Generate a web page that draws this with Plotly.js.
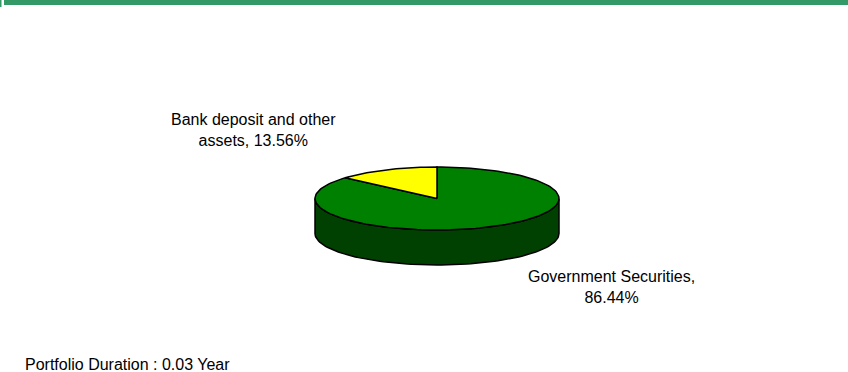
<!DOCTYPE html>
<html>
<head>
<meta charset="utf-8">
<script src="https://cdn.plot.ly/plotly-3.0.1.min.js"></script>
<style>html,body{margin:0;padding:0;background:#fff;}#chart{width:848px;height:372px;}</style>
</head>
<body>
<div id="chart"></div>
<script>
// ---- data ----
const labels = ['Government Securities', 'Bank deposit and other assets'];
const values = [86.44, 13.56];
const labelText = ['Government Securities,<br>86.44%', 'Bank deposit and other<br>assets, 13.56%'];
const footnote = 'Portfolio Duration : 0.03 Year';

// ---- styling / geometry ----
const topColors = ['#008000', '#FFFF00'];
const sideColors = ['#004000', '#808000'];
const cx = 437, cy = 198.5, rx = 122, ry = 31.5, depth = 35;
const labelPos = [[611, 287], [253, 130]];

const total = values.reduce((a, b) => a + b, 0);
const rad = d => d * Math.PI / 180;
function pt(a, dy) { return [cx + rx * Math.cos(rad(a)), cy - ry * Math.sin(rad(a)) + (dy || 0)]; }
function arc(a1, a2, dy) {
  const n = Math.max(2, Math.ceil(Math.abs(a2 - a1) / 2));
  const xs = [], ys = [];
  for (let i = 0; i <= n; i++) { const p = pt(a1 + (a2 - a1) * i / n, dy); xs.push(p[0]); ys.push(p[1]); }
  return [xs, ys];
}

const slices = [];
let start = 90;
values.forEach((v, i) => {
  const sweep = v / total * 360;
  slices.push({ i, hi: start, lo: start - sweep });
  start -= sweep;
});

const traces = [];
// side walls (front half only: angles in [-180,0] mod 360)
slices.forEach(s => {
  [-360, 0, 360].forEach(k => {
    const lo = Math.max(s.lo, -180 + k), hi = Math.min(s.hi, 0 + k);
    if (hi - lo > 0.01) {
      const t = arc(lo, hi, 0), b = arc(hi, lo, depth);
      traces.push({
        type: 'scatter', mode: 'lines', fill: 'toself', fillcolor: sideColors[s.i],
        x: t[0].concat(b[0], [t[0][0]]), y: t[1].concat(b[1], [t[1][0]]),
        line: { color: '#000', width: 1.5 }, hoverinfo: 'skip'
      });
    }
  });
});
// top faces
slices.forEach(s => {
  const a = arc(s.hi, s.lo, 0);
  traces.push({
    type: 'scatter', mode: 'lines', fill: 'toself', fillcolor: topColors[s.i],
    x: [cx].concat(a[0], [cx]), y: [cy].concat(a[1], [cy]),
    line: { color: '#000', width: 1.5 }, name: labels[s.i],
    text: labels[s.i] + ': ' + values[s.i] + '%', hoverinfo: 'text'
  });
});

const font = { family: 'Arial, "Liberation Sans", sans-serif', size: 16, color: '#000' };
const annotations = labelText.map((t, i) => ({
  x: labelPos[i][0], y: labelPos[i][1], xref: 'x', yref: 'y', text: t,
  showarrow: false, align: 'center', xanchor: 'center', yanchor: 'middle', font: font
}));
annotations.push({
  x: 23, y: 364, xref: 'x', yref: 'y', text: footnote, showarrow: false,
  xanchor: 'left', yanchor: 'middle', align: 'left', font: font
});

const layout = {
  width: 848, height: 372,
  margin: { l: 0, r: 0, t: 0, b: 0, pad: 0 },
  paper_bgcolor: '#fff', plot_bgcolor: '#fff',
  showlegend: false,
  xaxis: { range: [0, 848], visible: false, fixedrange: true },
  yaxis: { range: [372, 0], visible: false, fixedrange: true },
  shapes: [
    { type: 'rect', xref: 'x', yref: 'y', x0: 4, x1: 848, y0: 0, y1: 5, fillcolor: '#339966', line: { width: 0 } },
    { type: 'rect', xref: 'x', yref: 'y', x0: 0, x1: 1.5, y0: 0, y1: 7, fillcolor: '#339966', line: { width: 0 } }
  ],
  annotations: annotations
};

Plotly.newPlot('chart', traces, layout, { displayModeBar: false, staticPlot: true });
</script>
</body>
</html>
